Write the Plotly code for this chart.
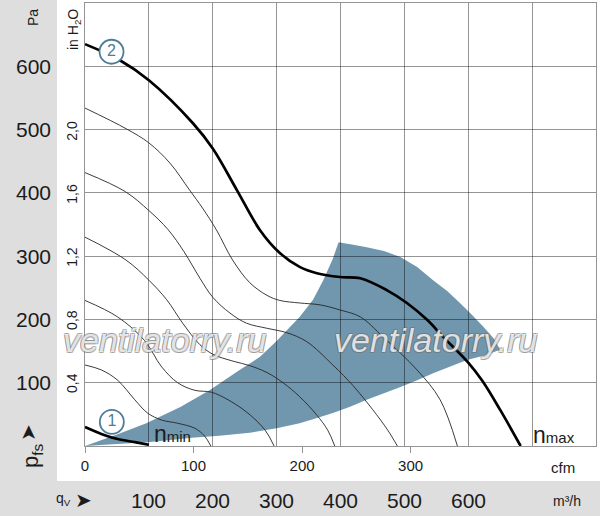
import plotly.graph_objects as go

# ---------------- data ----------------
CFM_TO_M3H = 1.699
INH2O_TO_PA = 249.09

grid_m3h = [0, 100, 200, 300, 400, 500, 600, 700, 800]
m3h_labels = [100, 200, 300, 400, 500, 600]
cfm_ticks = [0, 100, 200, 300]
pa_labels = [100, 200, 300, 400, 500, 600]
inh2o_labels = [0.4, 0.8, 1.2, 1.6, 2.0]

# curve 2 (n max), q in m3/h, p in Pa
nmax_q = [0, 54, 100, 169, 200, 238, 274, 305, 336, 363, 399, 431, 473, 504, 536, 561, 599, 622, 650, 682]
nmax_p = [635, 610, 578, 510, 470, 404, 341, 305, 283, 273, 267, 265, 246, 226, 199, 172, 133, 103, 57, 0]

# curve 1 (n min)
nmin_q = [0, 31, 51, 78, 100]
nmin_p = [30, 17, 11, 6, 2]

# intermediate speed curves
a_q = [0, 65, 100, 133, 164, 184, 206, 231, 258, 285, 305, 336, 368, 399, 431, 467, 520, 556, 583]
a_p = [534, 501, 479, 447, 404, 376, 341, 294, 258, 238, 230, 226, 223, 215, 204, 172, 120, 73, 0]
b_q = [0, 63, 100, 130, 155, 180, 200, 227, 253, 285, 316, 347, 388, 420, 450, 474, 489]
b_p = [432, 402, 372, 342, 307, 265, 235, 210, 194, 186, 179, 165, 128, 95, 58, 25, 0]
c_q = [0, 64, 100, 128, 153, 180, 200, 232, 258, 285, 310, 336, 362, 380, 391]
c_p = [330, 294, 262, 231, 194, 160, 145, 134, 127, 116, 100, 78, 50, 25, 0]
d_q = [0, 51, 93, 120, 145, 172, 198, 224, 255, 282, 296]
d_p = [230, 204, 167, 125, 100, 88, 85, 73, 52, 25, 0]
e_q = [0, 26, 51, 78, 98, 120, 145, 172, 187, 197]
e_p = [128, 120, 104, 73, 52, 41, 36, 28, 16, 0]

# operating range (shaded area) outline
zone_q = [0, 50, 96, 150, 195, 242, 274, 300, 316, 336, 357, 373, 388, 397,
          420, 441, 468, 493, 520, 545, 567, 587, 606, 624, 640, 650,
          625, 598, 570, 545, 520, 493, 467, 441, 415, 388, 362, 336, 300, 258, 210, 167, 130, 98, 50, 0]
zone_p = [0, 18, 36, 62, 88, 120, 141, 166, 183, 204, 231, 262, 296, 322,
          318, 314, 308, 299, 283, 262, 245, 226, 207, 188, 170, 152,
          143, 136, 125, 115, 104, 93, 83, 73, 62, 52, 44, 36, 28, 21, 16, 13, 9, 6, 3, 0]

# circled curve numbers
mark_q = [42, 41.5]
mark_p = [38, 623]
mark_txt = ["1", "2"]

# ---------------- layout helpers ----------------
W, H = 600, 516
ML, MR, MT, MB = 85, 4, 3, 70
PW, PH = W - ML - MR, H - MT - MB


def px(x):
    return (x - ML) / PW


def py(y):
    return (H - MB - y) / PH


GRID = "rgba(0,0,0,0.42)"
TXT = "#1b1b1b"
NARROW = "Liberation Sans Narrow, Arial Narrow, Liberation Sans, sans-serif"
BLUE = "#7097ae"
CIRC = "#4d7c97"

fig = go.Figure()

thin = dict(color="#262626", width=0.9, shape="spline", smoothing=1.0)
for qq, pp in [(a_q, a_p), (b_q, b_p), (c_q, c_p), (d_q, d_p), (e_q, e_p)]:
    fig.add_trace(go.Scatter(x=qq, y=pp, mode="lines", line=thin, hoverinfo="skip", showlegend=False))

fig.add_trace(go.Scatter(x=nmax_q, y=nmax_p, mode="lines",
                         line=dict(color="#000", width=2.7, shape="spline", smoothing=1.0),
                         showlegend=False))
fig.add_trace(go.Scatter(x=nmin_q, y=nmin_p, mode="lines",
                         line=dict(color="#000", width=2.7, shape="spline", smoothing=1.0),
                         showlegend=False))

fig.add_trace(go.Scatter(x=mark_q, y=mark_p, mode="markers+text", text=mark_txt,
                         textposition="middle center",
                         textfont=dict(size=16, color=CIRC, family="Liberation Sans, sans-serif"),
                         marker=dict(size=24, color="white", line=dict(color=CIRC, width=1.8)),
                         showlegend=False))

# invisible trace for the cfm axis
fig.add_trace(go.Scatter(x=[0], y=[0], xaxis="x2", mode="markers",
                         marker=dict(opacity=0), showlegend=False, hoverinfo="skip"))

# shaded operating zone (below gridlines)
path = "M " + " L ".join(f"{q},{p}" for q, p in zip(zone_q, zone_p)) + " Z"
shapes = [dict(type="path", path=path, xref="x", yref="y", fillcolor=BLUE,
               line=dict(width=0), layer="below")]

# grey frame strips
GREY = "#dedede"
shapes.append(dict(type="rect", xref="paper", yref="paper", x0=px(0), x1=px(57), y0=py(481), y1=py(0),
                   fillcolor=GREY, line=dict(width=0), layer="below"))
shapes.append(dict(type="rect", xref="paper", yref="paper", x0=px(0), x1=px(600), y0=py(516), y1=py(481),
                   fillcolor=GREY, line=dict(width=0), layer="below"))

ann = []


def add(x, y, text, size, xref="paper", yref="paper", angle=0, family=NARROW, **kw):
    f = dict(size=size, color=TXT, family=family)
    f.update(kw.pop("font", {}))
    ann.append(dict(x=x, y=y, xref=xref, yref=yref, text=text, textangle=angle, showarrow=False,
                    xanchor="center", yanchor="middle", font=f, **kw))


for v in pa_labels:
    add(px(33), v, str(v), 21, yref="y")
add(px(33), py(18), "Pa", 14, angle=-90)
for v in inh2o_labels:
    add(px(72), v * INH2O_TO_PA, f"{v:.1f}".replace(".", ","), 14, yref="y", angle=-90)
add(px(74), py(30), "in H<sub>2</sub>O", 14, angle=-90)
add(px(28), py(433), "➤", 20, angle=-90, family="DejaVu Sans")
add(px(32), py(456), "p<sub>fs</sub>", 22, angle=-90)
add(px(63), py(499), "q<sub>V</sub>", 14)
add(px(83), py(500), "➤", 20, family="DejaVu Sans")
for v in m3h_labels:
    add(v, py(501), str(v), 21, xref="x")
add(px(567), py(501), "m³/h", 14)
add(px(563), py(468), "cfm", 15)
add(px(172), py(434), "n<span style='font-size:15px'>min</span>", 23)
add(px(554), py(435), "n<span style='font-size:15px'>max</span>", 23)

wm_shadow = ("-1px -1px 0 rgba(110,110,110,0.6), 1px -1px 0 rgba(110,110,110,0.6), "
             "-1px 1px 0 rgba(110,110,110,0.6), 1px 1px 0 rgba(110,110,110,0.6)")
for cx in (165, 436):
    add(px(cx), py(340), "ventilatorry.ru", 34, family="Liberation Sans, sans-serif",
        font=dict(color="rgba(255,255,255,0.8)", style="italic", shadow=wm_shadow))

axis_common = dict(showticklabels=False, ticks="", showgrid=True, gridcolor=GRID, gridwidth=1,
                   zeroline=False, showline=True, mirror=True, linecolor=GRID, linewidth=1,
                   fixedrange=True, automargin=False)

fig.update_layout(
    width=W, height=H,
    margin=dict(l=ML, r=MR, t=MT, b=MB, autoexpand=False),
    paper_bgcolor="white", plot_bgcolor="white",
    showlegend=False,
    shapes=shapes, annotations=ann,
    xaxis=dict(range=[0, 800], tickvals=grid_m3h, **axis_common),
    xaxis2=dict(range=[0, 800 / CFM_TO_M3H], overlaying="x", side="bottom", anchor="y",
                tickvals=cfm_ticks, ticks="outside", ticklen=6, tickcolor=GRID, tickwidth=1,
                showgrid=False, showline=False, zeroline=False, automargin=False, fixedrange=True,
                tickfont=dict(size=15, color=TXT, family=NARROW)),
    yaxis=dict(range=[0, 700], tickvals=[0, 100, 200, 300, 400, 500, 600, 700], **axis_common),
)

fig.write_html("out.html", config={"displayModeBar": False},
               post_script="document.body.style.margin='0';")
